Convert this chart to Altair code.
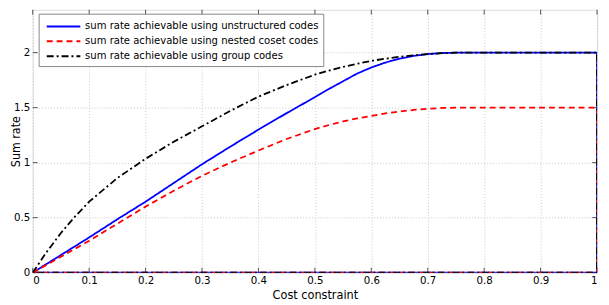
import altair as alt
import pandas as pd

# ---- data ----
cost = [0.0, 0.025, 0.05, 0.075, 0.1, 0.15, 0.2, 0.25, 0.3, 0.35, 0.4, 0.45,
        0.5, 0.525, 0.55, 0.575, 0.6, 0.625, 0.65, 0.675, 0.7, 0.725, 0.75, 1.0]
unstructured = [0.0, 0.08, 0.16, 0.24, 0.32, 0.485, 0.645, 0.815, 0.985, 1.145,
                1.30, 1.45, 1.595, 1.67, 1.74, 1.81, 1.865, 1.91, 1.945, 1.97,
                1.987, 1.996, 2.0, 2.0]
nested = [0.0, 0.072, 0.145, 0.217, 0.29, 0.445, 0.60, 0.745, 0.88, 1.0,
          1.11, 1.215, 1.305, 1.342, 1.375, 1.402, 1.425, 1.447, 1.465, 1.479,
          1.49, 1.497, 1.5, 1.5]
group = [0.0, 0.19, 0.36, 0.51, 0.645, 0.86, 1.035, 1.19, 1.33, 1.47,
         1.60, 1.705, 1.80, 1.837, 1.87, 1.899, 1.925, 1.945, 1.962, 1.976,
         1.987, 1.995, 2.0, 2.0]

labels = ["sum rate achievable using unstructured codes",
          "sum rate achievable using nested coset codes",
          "sum rate achievable using group codes"]
colors = ["#0000ff", "#ff0000", "#000000"]
dashes = [[1, 0], [6, 4], [7, 3, 2, 3]]

x_ticks = [0, 0.1, 0.2, 0.3, 0.4, 0.5, 0.6, 0.7, 0.8, 0.9, 1]
y_ticks = [0, 0.5, 1, 1.5, 2]

FONT = "Liberation Sans Narrow, DejaVu Sans Condensed, Liberation Sans"
W, H = 571, 266

rows = []
for name, vals in zip(labels, [unstructured, nested, group]):
    pts = list(zip(cost, vals)) + [(1.0, 0.0), (0.0, 0.0)]  # region boundary closes along the axes
    for i, (cx, cy) in enumerate(pts):
        rows.append({"x": cx, "y": cy, "series": name, "order": i})
df = pd.DataFrame(rows)

xscale = alt.Scale(domain=[0, 1], nice=False, zero=False)
yscale = alt.Scale(domain=[0, 2.39], nice=False, zero=False)

leg = alt.Legend(orient="none", legendX=6, legendY=4, title=None,
                 symbolType="M-0.6,0L3.65,0", symbolSize=256, symbolStrokeWidth=2,
                 labelFontSize=11.3, labelFont=FONT, labelColor="#000",
                 labelOffset=25, fillColor="white", strokeColor="#888",
                 padding=4, rowPadding=0, labelLimit=400)

lines = alt.Chart(df).mark_line(strokeWidth=1.8, clip=True).encode(
    x=alt.X("x:Q", scale=xscale,
            axis=alt.Axis(values=x_ticks, format="~g", title="Cost constraint",
                          grid=True, gridDash=[1, 2], gridColor="#c8c8c8",
                          ticks=False, domain=False, labelFont=FONT,
                          labelFontSize=11.5, labelColor="#000", labelPadding=2,
                          titleFont=FONT, titleFontSize=12.7, titleFontWeight="normal",
                          titleColor="#000", titlePadding=3)),
    y=alt.Y("y:Q", scale=yscale,
            axis=alt.Axis(values=y_ticks, format="~g", title="Sum rate",
                          grid=True, gridDash=[1, 2], gridColor="#c8c8c8",
                          ticks=False, domain=False, labelFont=FONT,
                          labelFontSize=11.5, labelColor="#000", labelPadding=3,
                          titleFont=FONT, titleFontSize=12.5, titleFontWeight="normal",
                          titleColor="#000", titleX=-10.5, titleY=H / 2,
                          titleAngle=270, titleBaseline="bottom", titleAlign="center")),
    color=alt.Color("series:N", scale=alt.Scale(domain=labels, range=colors), legend=leg),
    strokeDash=alt.StrokeDash("series:N", scale=alt.Scale(domain=labels, range=dashes), legend=leg),
    order="order:Q",
    detail="series:N",
)

xt = pd.DataFrame({"x": x_ticks})
yt = pd.DataFrame({"y": y_ticks})
tick_style = dict(color="#555", strokeWidth=1)
bottom_ticks = alt.Chart(xt).mark_rule(**tick_style).encode(
    x=alt.X("x:Q", scale=xscale), y=alt.value(H), y2=alt.value(H - 5))
top_ticks = alt.Chart(xt).mark_rule(**tick_style).encode(
    x=alt.X("x:Q", scale=xscale), y=alt.value(0), y2=alt.value(5))
left_ticks = alt.Chart(yt).mark_rule(**tick_style).encode(
    y=alt.Y("y:Q", scale=yscale), x=alt.value(0), x2=alt.value(5))
right_ticks = alt.Chart(yt).mark_rule(**tick_style).encode(
    y=alt.Y("y:Q", scale=yscale), x=alt.value(W), x2=alt.value(W - 5))

chart = alt.layer(bottom_ticks, top_ticks, left_ticks, right_ticks, lines).properties(
    width=W, height=H,
    autosize=alt.AutoSizeParams(type="none"),
    padding={"left": 25, "top": 0, "right": 4, "bottom": 31},
).configure_view(stroke="#444", strokeWidth=1.2).configure(background="white")

chart.save("out.html", embed_options={"renderer": "svg", "actions": False})
